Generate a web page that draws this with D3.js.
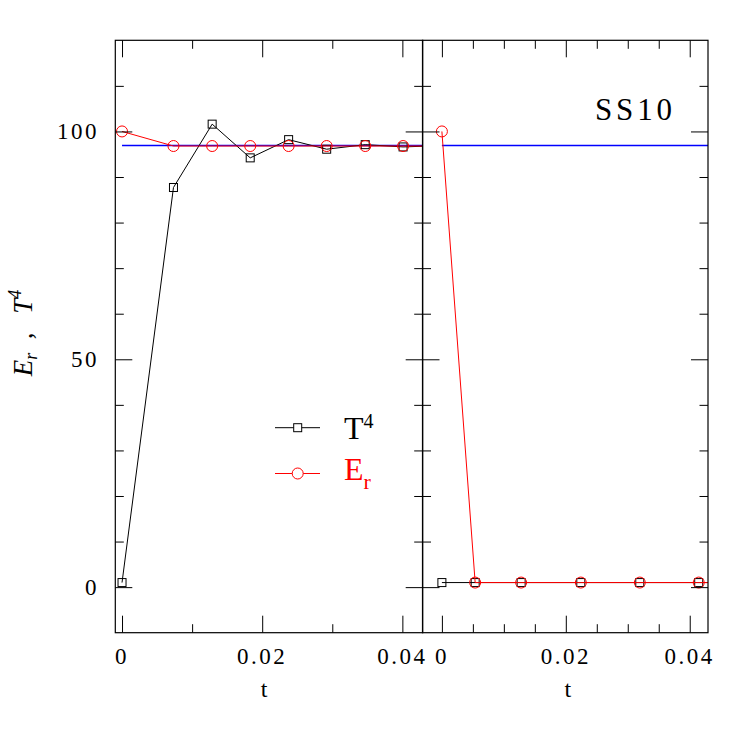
<!DOCTYPE html>
<html>
<head>
<meta charset="utf-8">
<script src="https://cdn.jsdelivr.net/npm/d3@7"></script>
<style>
  html, body { margin: 0; padding: 0; background: #fff; }
  text { font-family: "Liberation Serif", "DejaVu Serif", serif; }
</style>
</head>
<body>
<svg id="chart" width="747" height="747"></svg>
<script>
// ---------- data ----------
const leftT    = [0, 0.00734, 0.01286, 0.01829, 0.02377, 0.0292, 0.0347, 0.0401, 0.0456];
const leftT4   = [1, 87.7, 101.6, 94.2, 98.2, 96.1, 97.1, 96.6, 96.9];
const leftEr   = [100, 96.8, 96.8, 96.8, 96.8, 96.8, 96.8, 96.8, 96.8];
const rightT   = [0, 0.00537, 0.01279, 0.02242, 0.03194, 0.04145, 0.051];
const rightT4  = [1, 1, 1, 1, 1, 1, 1];
const rightEr  = [100, 1, 1, 1, 1, 1, 1];
const equilibrium = 96.9;
const eqT = [0, 0.06];

const yMajor = [0, 50, 100];
const yMinor = [10, 20, 30, 40, 60, 70, 80, 90, 110];
const yLabels = ["0", "50", "100"];
const leftXMajor = [0, 0.02, 0.04];
const leftXMinor = [0.01, 0.03];
const rightXMajor = [0, 0.02, 0.04];
const rightXMinor = [0.005, 0.01, 0.015, 0.025, 0.03, 0.035];
const xLabels = ["0", "0.02", "0.04"];
const panelTag = "SS10";

// ---------- layout ----------
const svg = d3.select("#chart");
const yTop = 40.3, yBot = 632.7;
const L = {x0: 115.3, x1: 422.7, dom: [-0.00096, 0.0429], major: leftXMajor, minor: leftXMinor,
           t: leftT, T4: leftT4, Er: leftEr, id: "L"};
const R = {x0: 422.5, x1: 708, dom: [-0.00313, 0.04295], major: rightXMajor, minor: rightXMinor,
           t: rightT, T4: rightT4, Er: rightEr, id: "R"};

const y = d3.scaleLinear().domain([-10, 120]).range([yBot, yTop]);
const MAJ = 17, MIN = 8.5;

function drawPanel(P) {
  const x = d3.scaleLinear().domain(P.dom).range([P.x0, P.x1]);
  const g = svg.append("g");
  const cid = "clip" + P.id;
  svg.append("clipPath").attr("id", cid).append("rect")
    .attr("x", P.x0).attr("y", yTop).attr("width", P.x1 - P.x0).attr("height", yBot - yTop);

  const plot = g.append("g").attr("clip-path", `url(#${cid})`);
  // equilibrium line
  plot.append("path")
    .attr("d", d3.line().x(d => x(d)).y(() => y(equilibrium))(eqT))
    .attr("fill", "none").attr("stroke", "#0000ff").attr("stroke-width", 1.6);
  // T4 line + squares
  const idx = d3.range(P.t.length);
  plot.append("path")
    .attr("d", d3.line().x(i => x(P.t[i])).y(i => y(P.T4[i]))(idx))
    .attr("fill", "none").attr("stroke", "#000").attr("stroke-width", 1);
  plot.selectAll(null).data(idx).enter().append("rect")
    .attr("x", i => x(P.t[i]) - 4).attr("y", i => y(P.T4[i]) - 4)
    .attr("width", 8).attr("height", 8)
    .attr("fill", "none").attr("stroke", "#000").attr("stroke-width", 1);
  // Er line + circles
  plot.append("path")
    .attr("d", d3.line().x(i => x(P.t[i])).y(i => y(P.Er[i]))(idx))
    .attr("fill", "none").attr("stroke", "#ff0000").attr("stroke-width", 1);
  plot.selectAll(null).data(idx).enter().append("circle")
    .attr("cx", i => x(P.t[i])).attr("cy", i => y(P.Er[i]))
    .attr("r", 5.5).attr("fill", "none").attr("stroke", "#ff0000").attr("stroke-width", 1);

  // ticks (inward) via d3 axes
  function ax(axisFn, scale, vals, size, tx, ty) {
    const a = g.append("g").attr("transform", `translate(${tx},${ty})`)
      .call(axisFn(scale).tickValues(vals).tickSize(size).tickSizeOuter(0).tickFormat(""));
    a.select(".domain").remove();
    a.selectAll("line").attr("stroke", "#000").attr("stroke-width", 1);
  }
  ax(d3.axisBottom, x, P.major, MAJ, 0, yTop);
  ax(d3.axisBottom, x, P.minor, MIN, 0, yTop);
  ax(d3.axisTop, x, P.major, MAJ, 0, yBot);
  ax(d3.axisTop, x, P.minor, MIN, 0, yBot);
  ax(d3.axisRight, y, yMajor, MAJ, P.x0, 0);
  ax(d3.axisRight, y, yMinor, MIN, P.x0, 0);
  ax(d3.axisLeft, y, yMajor, MAJ, P.x1, 0);
  ax(d3.axisLeft, y, yMinor, MIN, P.x1, 0);

  // frame
  g.append("rect").attr("x", P.x0).attr("y", yTop)
    .attr("width", P.x1 - P.x0).attr("height", yBot - yTop)
    .attr("fill", "none").attr("stroke", "#000").attr("stroke-width", 1.2);

  // x tick labels
  g.selectAll(null).data(P.major).enter().append("text")
    .attr("x", d => x(d)).attr("y", 664)
    .attr("text-anchor", "middle").attr("font-size", 23).attr("letter-spacing", 2.5)
    .attr("fill", "#000")
    .text((d, i) => xLabels[i]);
  // x axis title
  g.append("text").attr("x", (x(0) + x(0.04)) / 2 + 2).attr("y", 697)
    .attr("text-anchor", "middle").attr("font-size", 24).text("t");
  return x;
}

drawPanel(L);
drawPanel(R);

// y tick labels
svg.selectAll(null).data(yMajor).enter().append("text")
  .attr("x", 99).attr("y", d => y(d) + 8)
  .attr("text-anchor", "end").attr("font-size", 23).attr("letter-spacing", 2.5)
  .text((d, i) => yLabels[i]);

// y axis title (rotated)
const yt = svg.append("text")
  .attr("transform", "translate(32,333) rotate(-90)")
  .attr("text-anchor", "middle").attr("font-size", 27).attr("font-style", "italic");
yt.append("tspan").text("E");
yt.append("tspan").attr("font-size", 18).attr("dy", 5).text("r");
yt.append("tspan").attr("dy", -5).text("\u2002,\u2002\u2009T");
yt.append("tspan").attr("font-size", 18).attr("dy", -11).text("4");

// panel tag
svg.append("text").attr("x", 595).attr("y", 120)
  .attr("font-size", 31).attr("textLength", 77).attr("lengthAdjust", "spacing")
  .text(panelTag);

// legend
const legY1 = 427.7, legY2 = 473.5;
const lg = svg.append("g");
lg.append("line").attr("x1", 275).attr("x2", 320).attr("y1", legY1).attr("y2", legY1)
  .attr("stroke", "#000").attr("stroke-width", 1);
lg.append("rect").attr("x", 297.7 - 4).attr("y", legY1 - 4).attr("width", 8).attr("height", 8)
  .attr("fill", "#fff").attr("stroke", "#000");
const t1 = lg.append("text").attr("x", 344).attr("y", 439).attr("font-size", 32).attr("fill", "#000");
t1.append("tspan").text("T");
t1.append("tspan").attr("font-size", 20).attr("dy", -11).text("4");

lg.append("line").attr("x1", 275).attr("x2", 320).attr("y1", legY2).attr("y2", legY2)
  .attr("stroke", "#ff0000").attr("stroke-width", 1);
lg.append("circle").attr("cx", 297.7).attr("cy", legY2).attr("r", 5.5)
  .attr("fill", "#fff").attr("stroke", "#ff0000");
const t2 = lg.append("text").attr("x", 344).attr("y", 480).attr("font-size", 32).attr("fill", "#ff0000");
t2.append("tspan").text("E");
t2.append("tspan").attr("font-size", 22).attr("dy", 9).text("r");
</script>
</body>
</html>
